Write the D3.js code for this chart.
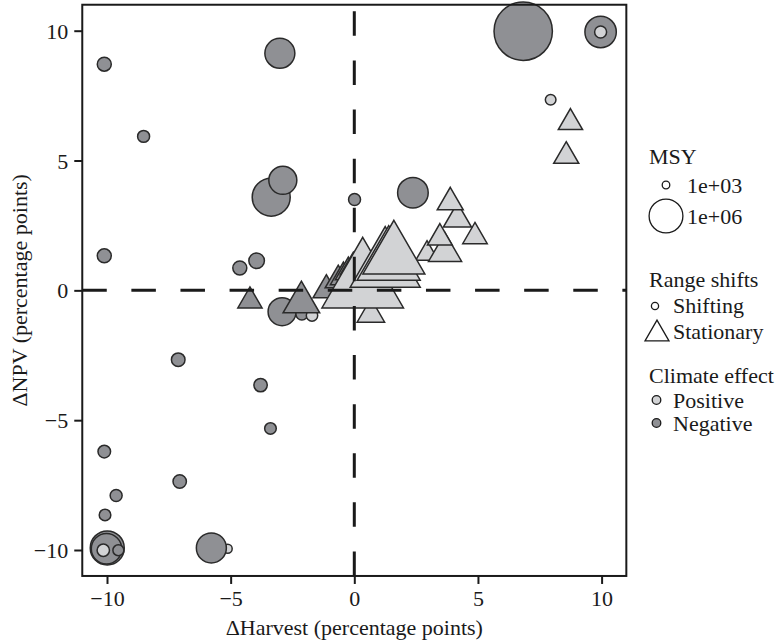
<!DOCTYPE html>
<html><head><meta charset="utf-8">
<script src="https://cdn.jsdelivr.net/npm/d3@7"></script>
<style>body{margin:0;background:#fff}svg{display:block}</style>
</head><body>
<svg id="chart" width="781" height="640"></svg>
<script>
// ---- data (drawing order) ----
const harvest = [-5.12,-5.78,-9.99,-10.02,-10.15,-9.54,-10.11,-8.52,-3.01,6.83,9.96,9.96,7.94,-3.36,-2.89,0.01,2.37,-10.11,-4.63,-3.95,-2.92,-2.12,-1.71,-7.12,-3.79,-3.39,-10.11,-7.06,-9.63,-10.08,
  -4.22,-2.14,-1.13,-0.65,-0.44,-0.24,-0.04,0.27,0.67,0.34,1.25,1.39,2.94,1.60,3.67,3.46,4.88,4.17,3.88,8.74,8.57];
const npv = [-9.95,-9.92,-9.92,-9.95,-10.01,-10.01,8.71,5.93,9.13,9.98,9.95,9.95,7.34,3.59,4.24,3.50,3.76,1.33,0.86,1.14,-0.82,-0.91,-0.97,-2.67,-3.65,-5.32,-6.21,-7.36,-7.90,-8.65,
  -0.41,-0.46,0.01,0.39,0.51,0.70,0.89,0.43,-0.92,0.23,0.90,1.09,1.41,1.32,1.48,2.02,2.07,2.75,3.39,6.46,5.17];
const msy = [1140,463000,865000,494000,5550,3050,10240,4700,463000,12900000,581000,4700,2550,1510000,328000,4700,511000,10240,10240,17500,328000,4700,3690,8860,8190,4000,6050,8190,4700,4000,
  36000,283000,58100,52200,52200,52200,52200,52200,67200,15500000,7230000,4270000,25500,3920000,171400,40100,38000,74100,50900,36000,42400];
const rangeShift = ["Shifting","Shifting","Shifting","Shifting","Shifting","Shifting","Shifting","Shifting","Shifting","Shifting","Shifting","Shifting","Shifting","Shifting","Shifting","Shifting","Shifting","Shifting","Shifting","Shifting","Shifting","Shifting","Shifting","Shifting","Shifting","Shifting","Shifting","Shifting","Shifting","Shifting",
  "Stationary","Stationary","Stationary","Stationary","Stationary","Stationary","Stationary","Stationary","Stationary","Stationary","Stationary","Stationary","Stationary","Stationary","Stationary","Stationary","Stationary","Stationary","Stationary","Stationary","Stationary"];
const climateEffect = ["Positive","Negative","Negative","Negative","Positive","Negative","Negative","Negative","Negative","Negative","Negative","Positive","Positive","Negative","Negative","Negative","Negative","Negative","Negative","Negative","Negative","Negative","Positive","Negative","Negative","Negative","Negative","Negative","Negative","Negative",
  "Negative","Negative","Negative","Negative","Negative","Negative","Negative","Negative","Positive","Positive","Positive","Positive","Positive","Positive","Positive","Positive","Positive","Positive","Positive","Positive","Positive"];

const xTicks = [-10,-5,0,5,10];
const yTicks = [-10,-5,0,5,10];
const msyBreaks = [1e3,1e6];
const msyLabels = ["1e+03","1e+06"];
const shiftLevels = ["Shifting","Stationary"];
const effectLevels = ["Positive","Negative"];

const xTitle = "\u0394Harvest (percentage points)";
const yTitle = "\u0394NPV (percentage points)";

// ---- scales ----
const x = d3.scaleLinear().domain([-10,10]).range([107,601.6]);
const y = d3.scaleLinear().domain([-10,10]).range([550,30.7]);
const rScale = d3.scalePow().exponent(0.2).domain([0,1e6]).range([0,17.5]);
const fill = d3.scaleOrdinal().domain(effectLevels).range(["#d2d3d5","#8f9094"]);
const STROKE = "#2a2a2a";
const INK = "#1a1a1a";
const FONT = "'Liberation Serif','Times New Roman',serif";

const svg = d3.select("#chart");
const x0 = x(-11), x1 = x(11), y0 = y(-11), y1 = y(11);

const pts = harvest.map((h,i)=>({h, v:npv[i], m:msy[i], s:rangeShift[i], e:climateEffect[i]}));

// ---- points ----
const g = svg.append("g");
pts.forEach(d=>{
  const r = rScale(d.m);
  if (d.s === "Shifting") {
    g.append("circle").attr("cx",x(d.h)).attr("cy",y(d.v)).attr("r",r)
      .attr("fill",fill(d.e)).attr("stroke",STROKE).attr("stroke-width",1.5);
  } else {
    g.append("path").attr("d", d3.symbol(d3.symbolTriangle, Math.PI*r*r)())
      .attr("transform",`translate(${x(d.h)},${y(d.v)})`)
      .attr("fill",fill(d.e)).attr("stroke",STROKE).attr("stroke-width",1.5)
      .attr("stroke-linejoin","miter");
  }
});

// ---- dashed reference lines ----
svg.append("line").attr("x1",x(0)).attr("x2",x(0)).attr("y1",y0).attr("y2",y1)
  .attr("stroke",INK).attr("stroke-width",3).attr("stroke-dasharray","24.5,24.6");
svg.append("line").attr("x1",x0).attr("x2",x1).attr("y1",y(0)).attr("y2",y(0))
  .attr("stroke",INK).attr("stroke-width",3).attr("stroke-dasharray","24.5,24.6");

// ---- frame ----
svg.append("rect").attr("x",x0).attr("y",y1).attr("width",x1-x0).attr("height",y0-y1)
  .attr("fill","none").attr("stroke",INK).attr("stroke-width",2);

// ---- axes ----
const xAxis = svg.append("g").attr("transform",`translate(0,${y0})`)
  .call(d3.axisBottom(x).tickValues(xTicks).tickSize(8).tickPadding(6).tickFormat(d=>d3.format("")(d).replace("-","\u2212")));
const yAxis = svg.append("g").attr("transform",`translate(${x0},0)`)
  .call(d3.axisLeft(y).tickValues(yTicks).tickSize(8).tickPadding(6).tickFormat(d=>d3.format("")(d).replace("-","\u2212")));
[xAxis,yAxis].forEach(a=>{
  a.select(".domain").remove();
  a.selectAll(".tick line").attr("stroke",INK).attr("stroke-width",2);
  a.selectAll(".tick text").attr("fill",INK).style("font-family",FONT).style("font-size","22px");
});
xAxis.selectAll(".tick text").attr("dy",null).attr("y",30);
yAxis.selectAll(".tick text").attr("dy","0.34em");

// axis titles
svg.append("text").attr("x",x(0)).attr("y",635).attr("text-anchor","middle")
  .attr("fill",INK).style("font-family",FONT).style("font-size","22px").text(xTitle);
svg.append("text").attr("transform",`translate(27,${y(0)}) rotate(-90)`).attr("text-anchor","middle")
  .attr("fill",INK).style("font-family",FONT).style("font-size","22px").text(yTitle);

// ---- legend ----
const lg = svg.append("g");
const txt = (xx,yy,t)=>lg.append("text").attr("x",xx).attr("y",yy).attr("fill",INK)
  .style("font-family",FONT).style("font-size","22px").text(t);

txt(649,164,"MSY");
const msyKeyY = [185,216];
msyBreaks.forEach((b,i)=>{
  lg.append("circle").attr("cx",666).attr("cy",msyKeyY[i]).attr("r",rScale(b)-0.6)
    .attr("fill","#fff").attr("stroke",INK).attr("stroke-width",1.3);
  txt(687,msyKeyY[i]+8,msyLabels[i]);
});

txt(649,287,"Range shifts");
const shiftKeyY = [306,332];
lg.append("circle").attr("cx",655).attr("cy",shiftKeyY[0]).attr("r",3.6)
  .attr("fill","#fff").attr("stroke",INK).attr("stroke-width",1.3);
lg.append("path").attr("d",d3.symbol(d3.symbolTriangle,Math.PI*8.9*8.9)())
  .attr("transform",`translate(657,${shiftKeyY[1]+2})`)
  .attr("fill","#fff").attr("stroke",INK).attr("stroke-width",1.3);
shiftLevels.forEach((s,i)=>txt(673,shiftKeyY[i]+7,s));

txt(649,383,"Climate effect");
const effKeyY = [400,423];
effectLevels.forEach((e,i)=>{
  lg.append("circle").attr("cx",656.5).attr("cy",effKeyY[i]).attr("r",4.3)
    .attr("fill",fill(e)).attr("stroke",INK).attr("stroke-width",1.3);
  txt(673,effKeyY[i]+8,e);
});
</script>
</body></html>
